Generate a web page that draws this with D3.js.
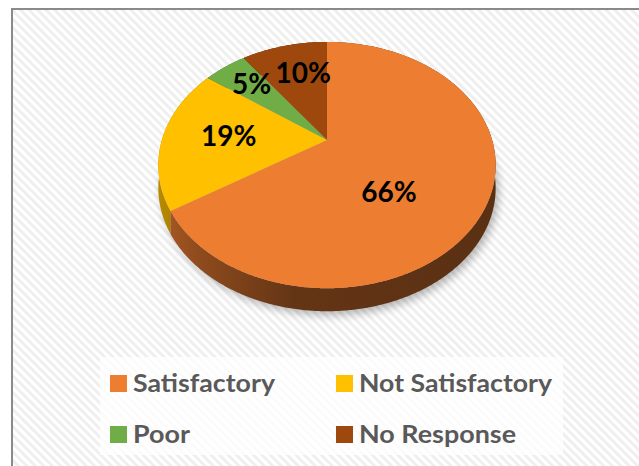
<!DOCTYPE html>
<html><head><meta charset="utf-8">
<script src="https://cdn.jsdelivr.net/npm/d3@7"></script>
<style>html,body{margin:0;padding:0;background:#fff;overflow:hidden}</style>
</head><body><svg id="c" width="639" height="466"></svg>
<script>
// ---- data ----
const categories = ["Satisfactory", "Not Satisfactory", "Poor", "No Response"];
const values = [66, 19, 5, 10];
const labels = ["66%", "19%", "5%", "10%"];
const colors = ["#ED7D31", "#FFC000", "#70AD47", "#9E480E"];

// ---- layout ----
const labelPlace = [{da: 20.7, r: 0.53}, {da: 1.4, r: 0.6}, {da: 1.2, r: 0.73}, {da: 3.7, r: 0.66}];
const P = {cx: 327, cy: 140, f: 568, D: 3.44, c: 0.70, s: 0.715, depth: 23};

function proj(theta, r = 1, drop = 0) {
  const u = r * Math.sin(theta), v = -r * Math.cos(theta);
  const d = P.D - P.c * v;
  return [P.cx + P.f * u / d, P.cy + P.f * P.s * v / d + drop];
}
function arcPts(a0, a1, drop) {
  const n = Math.max(2, Math.ceil(Math.abs(a1 - a0) / (Math.PI / 360)));
  return d3.range(n + 1).map(i => proj(a0 + (a1 - a0) * i / n, 1, drop));
}

const svg = d3.select("#c");
const defs = svg.append("defs");

// hatch background
const pat = defs.append("pattern").attr("id", "hatch").attr("patternUnits", "userSpaceOnUse")
  .attr("width", 6).attr("height", 6).attr("patternTransform", "rotate(-45)");
pat.append("rect").attr("width", 6).attr("height", 6).attr("fill", "#ffffff");
pat.append("rect").attr("width", 3).attr("height", 6).attr("fill", "#efefef");

svg.append("rect").attr("x", 12).attr("y", 9).attr("width", 660).attr("height", 480)
  .attr("fill", "url(#hatch)").attr("stroke", "#8a8a8a").attr("stroke-width", 2);

// shadow
defs.append("filter").attr("id", "blur").attr("x", "-20%").attr("y", "-20%").attr("width", "140%").attr("height", "140%")
  .append("feGaussianBlur").attr("stdDeviation", 4);
const line = d3.line();
svg.append("path")
  .attr("d", line(arcPts(0, 2 * Math.PI, P.depth)) + "Z")
  .attr("transform", "translate(3,4)")
  .attr("fill", "#000").attr("opacity", 0.28).attr("filter", "url(#blur)");

const pie = d3.pie().sort(null).value(d => d)(values);

// side gradients
pie.forEach((p, i) => {
  const base = d3.rgb(colors[i]);
  const mul = k => d3.rgb(base.r * k, base.g * k, base.b * k).formatHex();
  const g = defs.append("linearGradient").attr("id", "side" + i).attr("gradientUnits", "userSpaceOnUse")
    .attr("x1", 158).attr("x2", 497).attr("y1", 0).attr("y2", 0);
  g.append("stop").attr("offset", 0).attr("stop-color", mul(0.72));
  g.append("stop").attr("offset", 0.12).attr("stop-color", mul(0.6));
  g.append("stop").attr("offset", 0.4).attr("stop-color", mul(0.42));
  g.append("stop").attr("offset", 1).attr("stop-color", mul(0.38));
});

// sides (back to front)
const order = pie.map((p, i) => i).sort((a, b) =>
  (-Math.cos((pie[a].startAngle + pie[a].endAngle) / 2)) - (-Math.cos((pie[b].startAngle + pie[b].endAngle) / 2)));
svg.append("g").selectAll("path").data(order).join("path")
  .attr("d", i => {
    const top = arcPts(pie[i].startAngle, pie[i].endAngle, 0);
    const bot = arcPts(pie[i].endAngle, pie[i].startAngle, P.depth);
    return line(top.concat(bot)) + "Z";
  })
  .attr("fill", i => `url(#side${i})`);

// top faces
svg.append("g").selectAll("path").data(pie).join("path")
  .attr("d", (p) => line([[P.cx, P.cy]].concat(arcPts(p.startAngle, p.endAngle, 0))) + "Z")
  .attr("fill", (p, i) => colors[i]);

// labels
svg.append("g").selectAll("text").data(pie).join("text")
  .attr("x", (p, i) => proj((p.startAngle + p.endAngle) / 2 + labelPlace[i].da * Math.PI / 180, labelPlace[i].r)[0])
  .attr("y", (p, i) => proj((p.startAngle + p.endAngle) / 2 + labelPlace[i].da * Math.PI / 180, labelPlace[i].r)[1])
  .attr("dy", "0.36em")
  .attr("text-anchor", "middle")
  .attr("font-family", "Lato, 'Open Sans', sans-serif")
  .attr("font-weight", "bold")
  .attr("font-size", 28)
  .attr("fill", "#000")
  .text((p, i) => labels[i]);

// legend
svg.append("rect").attr("x", 100).attr("y", 357).attr("width", 463).attr("height", 98)
  .attr("fill", "#ffffff").attr("opacity", 0.75);
const col = d3.scaleOrdinal().domain([0, 1]).range([110, 336]);
const row = d3.scaleOrdinal().domain([0, 1]).range([375, 426]);
const legW = [142, 193, 57, 157];
const lg = svg.append("g").selectAll("g").data(categories).join("g")
  .attr("transform", (d, i) => `translate(${col(i % 2)},${row(Math.floor(i / 2))})`);
lg.append("rect").attr("width", 17).attr("height", 17).attr("fill", (d, i) => colors[i]);
lg.append("text").attr("x", 23).attr("y", 16.5)
  .attr("font-family", "Lato, 'Open Sans', sans-serif").attr("font-weight", "bold").attr("font-size", 25)
  .attr("fill", "#595959")
  .attr("textLength", (d, i) => legW[i]).attr("lengthAdjust", "spacingAndGlyphs")
  .text(d => d);
</script></body></html>
